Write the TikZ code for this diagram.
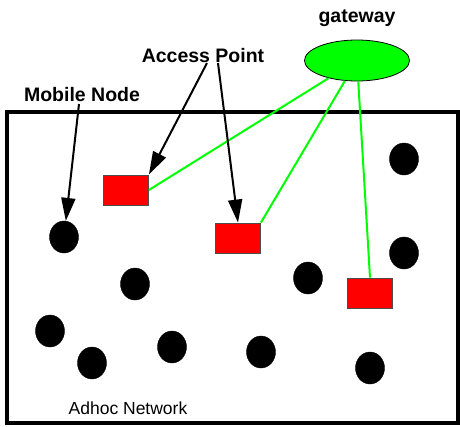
\documentclass[tikz,border=0pt]{standalone}
\usepackage{fontspec}
\setmainfont{Liberation Sans}
\usetikzlibrary{arrows.meta,shapes.geometric}
\begin{document}
\begin{tikzpicture}[x=1pt,y=-1pt,
  mnode/.style={ellipse,fill=black,draw=black,minimum width=29pt,minimum height=32pt,inner sep=0pt},
  apbox/.style={rectangle,fill=red,draw=black!70,line width=0.8pt,minimum width=45pt,minimum height=30pt,inner sep=0pt},
  gwnode/.style={ellipse,fill={rgb,255:red,0;green,255;blue,0},draw=black,line width=0.8pt,minimum width=105pt,minimum height=41pt,inner sep=0pt},
  lbl/.style={font=\fontsize{19.5}{22}\selectfont\bfseries,inner sep=0pt},
  lblsm/.style={font=\fontsize{17.5}{20}\selectfont,inner sep=0pt},
  arr/.style={draw=black,line width=2pt,-{Triangle[length=23pt,width=14pt]},shorten >=0pt},
  glink/.style={draw={rgb,255:red,0;green,255;blue,0},line width=2pt}
]
\useasboundingbox (0,0) rectangle (460,426);
\node[draw=black,line width=3.5pt,minimum width=451pt,minimum height=311pt,inner sep=0pt] (frame) at (232.5,267.5) {};
% labels
\node[lbl] (gwl) at (357,18) {gateway};
\node[lbl] (apl) at (203,56) {Access Point};
\node[lbl] (mnl) at (82,95) {Mobile Node};
\node[lblsm] (adl) at (128,408) {Adhoc Network};
% gateway
\node[gwnode] (gw) at (357,60.5) {};
% access points
\node[apbox] (r1) at (126,190) {};
\node[apbox] (r2) at (238,238) {};
\node[apbox] (r3) at (370,293) {};
% mobile nodes
\node[mnode] (c1) at (404,159) {};
\node[mnode] (c2) at (64,237) {};
\node[mnode] (c3) at (404,253) {};
\node[mnode] (c4) at (135,284) {};
\node[mnode] (c5) at (308,278) {};
\node[mnode] (c6) at (50,331) {};
\node[mnode] (c7) at (92,363) {};
\node[mnode] (c8) at (172,347) {};
\node[mnode] (c9) at (261,352) {};
\node[mnode] (c10) at (370,368) {};
% green links
\draw[glink] (gw) -- (r1.east);
\draw[glink] (gw) -- (r2.north east);
\draw[glink] (gw) -- (r3.north);
% arrows
\coordinate (mnA) at (79,104);
\coordinate (apA) at (207,63);
\coordinate (apB) at (218,63);
\draw[arr] (mnA) -- (c2);
\draw[arr] (apA) -- (r1.north east);
\draw[arr] (apB) -- (r2.north);
\end{tikzpicture}
\end{document}
